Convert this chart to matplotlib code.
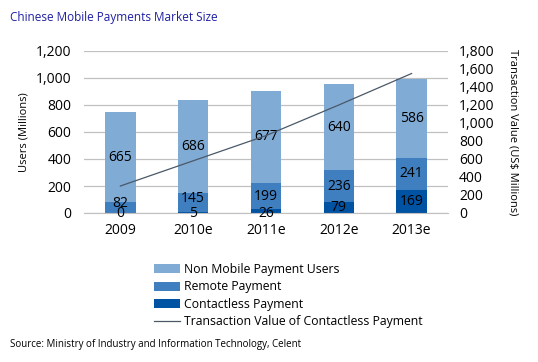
import matplotlib.pyplot as plt
from matplotlib.ticker import FuncFormatter
import numpy as np

years = ["2009", "2010e", "2011e", "2012e", "2013e"]
contactless = [0, 5, 26, 79, 169]
remote = [82, 145, 199, 236, 241]
non_mobile = [665, 686, 677, 640, 586]
trans_value = [300, 580, 860, 1200, 1550]

c_light = "#80abd5"
c_mid = "#3f7fbf"
c_dark = "#0052a3"

plt.rcParams['font.family'] = ['Open Sans', 'DejaVu Sans']

fig = plt.figure(figsize=(5.38, 3.62), dpi=100)
ax = fig.add_axes([84/538, 1 - 213/362, 364/538, 162/362])
ax2 = ax.twinx()

x = np.arange(len(years))
w = 0.42
b1 = ax.bar(x, contactless, w, color=c_dark, label="Contactless Payment", zorder=2)
b2 = ax.bar(x, remote, w, bottom=contactless, color=c_mid, label="Remote Payment", zorder=2)
bottom3 = np.array(contactless) + np.array(remote)
b3 = ax.bar(x, non_mobile, w, bottom=bottom3, color=c_light, label="Non Mobile Payment Users", zorder=2)

for i in range(len(years)):
    # contactless label sits at the segment middle, or on the axis when tiny
    ypos = contactless[i] / 2 if contactless[i] > 40 else -6
    ax.text(x[i], ypos, str(contactless[i]), ha="center", va="center", fontsize=10,
            zorder=3, clip_on=False)
    ax.text(x[i], contactless[i] + remote[i] / 2 + (28 if remote[i] < 160 else 0), str(remote[i]),
            ha="center", va="center", fontsize=10, zorder=3)
    ax.text(x[i], bottom3[i] + non_mobile[i] / 2, str(non_mobile[i]), ha="center", va="center",
            fontsize=10, zorder=3)

ax.set_xlim(-0.5, 4.5)
ax.set_ylim(0, 1200)
ax.set_yticks(range(0, 1201, 200))
ax.yaxis.set_major_formatter(FuncFormatter(lambda v, p: f"{int(v):,}"))
ax.set_xticks(x)
ax.set_xticklabels(years)
ax.grid(axis="y", color="#c0c0c0", linewidth=0.9, zorder=0)
ax.set_axisbelow(True)
for s in ["top", "right", "left"]:
    ax.spines[s].set_visible(False)
ax.spines["bottom"].set_color("#c0c0c0")
ax.tick_params(length=0, labelsize=10, pad=9)
ax.tick_params(axis="x", pad=7)
ax.set_ylabel("Users (Millions)", fontsize=8)
ax.yaxis.set_label_coords(-(84 - 30) / 364, 0.5)

l1, = ax2.plot(x, trans_value, color="#4a5868", linewidth=0.9,
               label="Transaction Value of Contactless Payment")
ax2.set_ylim(0, 1800)
ax2.set_yticks(range(0, 1801, 200))
ax2.yaxis.set_major_formatter(FuncFormatter(lambda v, p: f"{int(v):,}"))
ax2.tick_params(length=0, labelsize=10, pad=8)
for s in ax2.spines.values():
    s.set_visible(False)
ax2.set_ylabel("Transaction Value (US$ Millions)", fontsize=8, rotation=-90, va="center")
ax2.yaxis.set_label_coords((513 - 84) / 364, 0.5)

fig.text(10/538, 1 - 17/362, "Chinese Mobile Payments Market Size", color="#1f1fa5",
         fontsize=8.5, va="center")
fig.legend(handles=[b3, b2, b1, l1], loc="upper left", bbox_to_anchor=(148/538, 1 - 257/362),
           frameon=False, fontsize=8.8, handlelength=2.1, handleheight=0.75,
           labelspacing=0.35, handletextpad=0.35, borderpad=0)
fig.text(10/538, 1 - 344/362, "Source: Ministry of Industry and Information Technology, Celent",
         fontsize=7, va="center")

fig.savefig("out.png", dpi=100)
